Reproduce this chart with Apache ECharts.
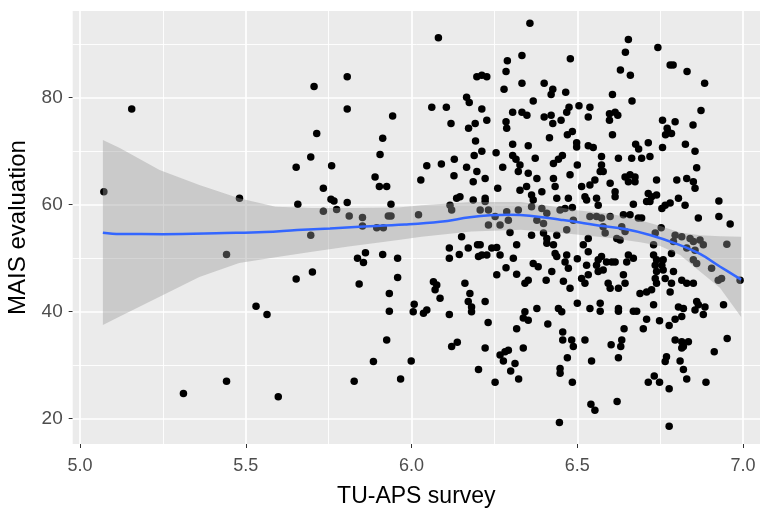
<!DOCTYPE html>
<html>
<head>
<meta charset="utf-8">
<script src="https://cdn.jsdelivr.net/npm/echarts@6/dist/echarts.min.js"></script>
<style>
  html, body { margin: 0; padding: 0; background: #fff; }
  #chart { width: 760px; height: 508px; }
</style>
</head>
<body>
<div id="chart"></div>
<script>
// TU-APS survey (x) and MAIS evaluation (y)
var tuAps = [
  5.072,5.156,5.481,5.806,5.706,5.806,5.943,5.714,5.913,5.905,5.696,5.652,5.759,5.890,5.903,5.925,5.734,5.657,5.757,5.766,
  5.806,5.938,5.734,5.774,5.812,5.852,5.852,5.930,5.938,5.895,5.915,5.696,
  5.442,5.652,5.701,5.531,5.564,5.312,5.442,5.598,5.837,5.861,5.855,5.913,5.958,5.842,5.958,5.933,5.933,5.925,5.885,5.827,5.967,
  6.081,6.357,6.333,6.289,6.479,6.285,6.197,6.212,6.227,6.333,6.400,6.279,6.426,6.421,6.465,6.166,6.174,6.367,6.061,6.105,
  6.212,6.505,6.475,6.468,6.305,6.333,6.348,6.400,6.421,6.426,6.451,6.119,6.227,6.192,6.172,6.285,6.287,6.193,6.416,6.470,
  6.485,6.498,6.498,6.305,6.352,6.255,6.212,6.189,6.305,6.315,6.373,6.455,6.443,6.129,
  6.654,6.743,6.645,6.780,6.789,6.630,6.660,6.831,6.884,6.606,6.665,6.538,6.533,6.597,6.614,6.622,6.597,6.873,6.757,6.795,
  6.849,6.771,6.774,6.766,6.784,6.606,6.533,6.548,6.676,6.685,6.714,6.757,6.826,6.855,6.573,6.624,6.664,6.694,6.719,
  6.046,6.090,6.166,6.197,6.128,6.186,6.222,6.028,6.275,6.327,6.322,6.352,6.428,6.478,6.378,6.428,6.433,6.260,6.327,6.347,
  6.393,6.362,6.367,6.438,6.473,6.146,6.136,6.186,6.222,6.222,6.116,6.121,6.485,6.021,6.207,6.232,6.252,6.287,6.322,6.232,
  6.267,6.292,6.362,6.393,6.408,6.378,6.398,6.448,6.463,6.488,6.468,6.151,6.297,6.362,6.398,6.408,6.408,6.428,6.438,6.114,
  6.114,6.144,6.171,6.199,6.207,6.202,6.212,6.227,6.242,6.257,6.267,6.317,6.307,6.433,6.438,6.468,6.463,6.473,6.367,6.382,
  6.285,6.317,6.257,6.423,6.352,6.342,6.406,6.458,6.478,6.066,6.076,6.071,6.086,6.161,6.176,6.222,6.171,6.181,6.008,6.046,
  6.500,6.573,6.578,6.569,6.644,6.659,6.674,6.654,6.674,6.739,6.800,6.830,6.850,6.855,6.860,6.513,6.538,6.553,6.599,6.614,
  6.614,6.523,6.528,6.558,6.563,6.714,6.724,6.739,6.709,6.719,6.669,6.765,6.780,6.755,6.805,6.825,6.927,6.865,6.927,6.961,
  6.538,6.558,6.573,6.599,6.578,6.584,6.639,6.659,6.684,6.694,6.634,6.644,6.619,6.629,6.753,6.735,6.730,6.795,6.815,6.790,
  6.784,6.840,6.850,6.870,6.880,6.855,6.830,6.850,6.860,6.905,6.925,6.935,6.951,6.991,6.533,6.518,6.533,6.500,6.563,6.573,
  6.558,6.588,6.563,6.578,6.604,6.614,6.654,6.649,6.669,6.528,6.533,6.513,6.523,6.730,6.739,6.759,6.735,6.755,6.739,6.759,
  6.735,6.765,6.790,6.639,6.644,6.624,6.593,6.599,6.689,6.709,6.724,6.780,6.739,6.815,6.830,6.850,6.784,6.730,6.569,6.624,
  6.865,6.860,6.941,6.500,
  6.005,6.036,6.114,6.181,6.231,6.342,6.337,6.352,6.378,6.317,6.411,6.443,6.453,6.456,6.456,6.483,6.488,6.121,6.138,6.222,
  6.337,6.267,6.282,6.292,6.277,6.312,6.299,6.323,6.470,6.448,6.448,6.485,6.202,6.252,5.999,6.446,
  6.538,6.569,6.624,6.669,6.679,6.805,6.820,6.855,6.885,6.880,6.709,6.748,6.777,6.795,6.815,6.699,6.641,6.634,6.631,6.602,
  6.523,6.624,6.543,6.795,6.815,6.835,6.815,6.820,6.769,6.765,6.810,6.820,6.913,6.952,6.732,6.714,6.748,6.777,6.830,6.888,
  6.541,6.553,6.620,6.777
];
var mais = [
  62.4,77.9,61.2,83.9,82.1,77.9,76.6,73.3,72.4,69.4,68.9,67.0,67.3,65.2,63.4,63.4,63.1,60.1,61.0,60.7,
  60.4,60.1,58.8,59.1,57.9,57.6,56.0,57.9,57.9,55.7,55.7,54.3,
  50.7,46.1,47.4,41.0,39.5,24.7,27.0,24.1,50.0,51.0,49.2,50.7,50.0,45.2,46.4,43.4,40.1,34.7,30.7,27.0,27.4,
  91.2,93.9,87.9,86.9,87.3,84.9,83.9,84.2,83.9,82.7,82.7,81.6,81.6,80.6,81.0,80.1,79.1,79.4,78.2,78.2,
  77.9,78.5,78.2,77.3,77.3,77.3,76.7,76.4,76.7,75.2,75.8,75.2,75.8,75.2,74.3,75.5,74.3,71.9,72.5,73.1,
  73.7,71.6,70.8,71.3,71.0,69.7,70.0,69.2,69.2,68.5,68.7,69.2,68.5,68.5,
  90.9,89.4,88.5,86.1,86.1,85.2,84.2,84.9,82.7,80.6,79.4,78.2,76.4,77.0,77.3,76.7,75.8,77.6,75.8,75.5,
  74.9,74.3,73.6,73.1,73.3,73.1,71.0,70.7,71.3,70.4,71.6,70.7,71.3,70.0,69.0,68.7,68.7,68.7,69.0,
  67.3,67.6,67.0,66.2,65.4,64.3,64.9,64.6,67.0,67.4,66.2,65.9,67.7,65.6,64.9,64.9,63.4,63.1,62.7,63.4,
  62.4,61.8,60.9,61.2,61.2,61.5,61.2,60.9,61.2,60.6,59.9,59.0,59.5,58.1,59.0,59.0,57.8,58.7,59.0,56.2,
  56.2,57.1,59.6,59.3,58.4,57.1,56.5,59.0,59.3,57.1,55.3,54.0,54.8,54.3,54.7,53.7,52.8,52.5,54.3,51.9,
  50.0,50.7,51.9,52.5,52.5,50.3,50.6,50.6,51.9,52.0,50.6,52.5,50.0,50.9,50.3,50.6,49.3,48.1,49.0,48.4,
  48.2,47.0,46.9,47.5,45.9,45.3,45.9,45.7,44.4,45.6,45.0,44.1,42.5,45.3,43.4,41.9,41.9,40.9,41.4,40.3,
  67.4,67.4,66.2,66.2,65.2,65.6,65.2,64.3,64.3,64.6,64.6,64.9,64.3,63.1,66.9,63.4,63.7,64.6,64.0,62.4,
  61.5,61.5,60.9,61.2,59.9,62.1,61.5,61.8,60.6,60.6,60.1,59.9,60.3,59.3,61.2,59.9,60.7,57.5,57.8,56.4,
  57.8,57.8,57.5,57.8,55.9,54.7,58.1,58.1,57.5,57.5,55.9,55.0,53.7,53.4,55.7,54.7,52.5,54.3,54.0,53.1,
  50.9,53.7,53.1,53.4,52.5,51.5,51.9,49.7,49.0,48.1,45.9,46.2,52.6,45.9,53.7,52.5,51.2,49.9,49.7,50.3,
  48.7,49.3,47.5,47.8,49.3,49.3,50.6,49.3,50.0,48.7,46.9,46.2,45.3,50.6,49.7,49.7,48.7,48.7,47.5,47.8,
  46.2,46.2,47.5,46.9,45.3,44.4,45.3,44.4,43.4,43.7,44.1,43.7,45.3,45.9,45.3,45.3,45.3,41.3,41.6,40.6,
  41.3,41.9,41.3,41.6,
  40.0,39.7,39.5,40.0,38.0,40.0,38.8,38.4,40.6,36.8,37.7,40.6,40.0,36.2,34.7,34.7,33.5,33.5,34.3,33.2,
  33.2,31.9,32.5,32.8,30.8,30.3,28.9,27.4,31.4,29.4,28.5,26.8,29.2,26.8,30.8,19.3,
  40.6,40.1,40.1,40.1,40.1,40.9,40.6,40.3,40.9,39.5,38.6,38.3,37.4,38.6,39.1,36.8,36.8,34.7,33.5,33.8,
  34.7,31.4,30.8,34.7,34.4,34.4,33.2,33.5,31.6,30.7,30.8,29.2,32.5,35.0,28.0,26.8,26.8,25.6,27.4,26.8,
  22.7,21.6,23.2,18.6
];

// loess fit and its confidence band
var fitX = [5.069,5.121,5.25,5.437,5.558,5.655,5.754,5.830,5.980,6.086,6.176,6.237,6.297,6.327,6.388,6.448,6.508,6.569,6.644,6.719,6.795,6.870,6.931,6.994];
var fitY = [54.77,54.52,54.5,54.71,54.90,55.27,55.55,55.83,56.30,56.82,57.64,58.02,58.13,58.07,57.70,57.20,56.67,56.07,55.46,54.34,52.78,50.79,48.41,46.0];
var bandX = [5.069,5.12,5.24,5.36,5.48,5.59,5.70,5.81,5.96,6.03,6.18,6.33,6.45,6.49,6.60,6.69,6.75,6.81,6.87,6.93,6.994];
var bandLow = [37.5,39.1,42.8,46.5,49.1,50.2,51.2,52.2,53.4,54.0,55.0,55.3,54.7,54.5,53.8,53.0,52.3,50.6,47.5,44.5,39.0];
var bandHigh = [72.1,70.6,66.5,63.7,61.2,59.6,59.4,59.4,59.5,59.9,60.5,60.5,59.5,59.0,58.3,57.1,56.0,54.8,54.3,54.1,54.0];

var xTicks = [5, 5.5, 6, 6.5, 7];
var xMinor = [5.25, 5.75, 6.25, 6.75];
var yTicks = [20, 40, 60, 80];
var yMinor = [30, 50, 70, 90];

var points = tuAps.map(function (x, i) { return [x, mais[i]]; });
var fit = fitX.map(function (x, i) { return [x, fitY[i]]; });
var band = bandX.map(function (x, i) { return [x, bandLow[i], bandHigh[i]]; });

var gridLines = [];
xTicks.forEach(function (v) { gridLines.push({ xAxis: v, lineStyle: { width: 1.7 } }); });
xMinor.forEach(function (v) { gridLines.push({ xAxis: v, lineStyle: { width: 0.9 } }); });
yTicks.forEach(function (v) { gridLines.push({ yAxis: v, lineStyle: { width: 1.7 } }); });
yMinor.forEach(function (v) { gridLines.push({ yAxis: v, lineStyle: { width: 0.9 } }); });

var labelFont = 'Liberation Sans';

var option = {
  animation: false,
  grid: {
    left: 72.7, right: 0, top: 11, bottom: 64,
    outerBoundsMode: 'none', containLabel: false,
    show: true, backgroundColor: '#EBEBEB', borderWidth: 0
  },
  xAxis: {
    type: 'value',
    min: 4.978, max: 7.051,
    axisLine: { show: false },
    axisTick: { show: true, customValues: xTicks, length: 4, lineStyle: { color: '#333' } },
    axisLabel: {
      customValues: xTicks, color: '#4D4D4D', fontSize: 18, fontFamily: labelFont, margin: 13,
      formatter: function (v) { return v.toFixed(1); }
    },
    splitLine: { show: false },
    name: 'TU-APS survey', nameLocation: 'middle', nameGap: 41,
    nameTextStyle: { color: '#000', fontSize: 23, fontFamily: labelFont }
  },
  yAxis: {
    type: 'value',
    min: 15.27, max: 96.21,
    axisLine: { show: false },
    axisTick: { show: true, customValues: yTicks, length: 4, lineStyle: { color: '#333' } },
    axisLabel: { customValues: yTicks, color: '#4D4D4D', fontSize: 19, fontFamily: labelFont, margin: 10 },
    splitLine: { show: false },
    name: 'MAIS evaluation', nameLocation: 'middle', nameGap: 38,
    nameTextStyle: { color: '#000', fontSize: 24, fontFamily: labelFont }
  },
  series: [
    {
      type: 'line', data: [], silent: true, z: 1,
      markLine: {
        silent: true, z: 1, symbol: ['none', 'none'], label: { show: false },
        lineStyle: { color: '#FFFFFF', type: 'solid' },
        emphasis: { disabled: true },
        data: gridLines
      }
    },
    {
      type: 'scatter', data: points, symbolSize: 7.5, z: 2,
      itemStyle: { color: '#000000', opacity: 1 }
    },
    {
      type: 'custom', data: band, z: 3, silent: true,
      encode: { x: 0, y: [1, 2] },
      renderItem: function (params, api) {
        if (params.dataIndex !== 0) return null;
        var pts = [];
        for (var i = 0; i < band.length; i++) pts.push(api.coord([band[i][0], band[i][2]]));
        for (var j = band.length - 1; j >= 0; j--) pts.push(api.coord([band[j][0], band[j][1]]));
        return {
          type: 'polygon',
          shape: { points: pts },
          style: { fill: 'rgba(153,153,153,0.4)', stroke: null }
        };
      }
    },
    {
      type: 'line', data: fit, smooth: 0.4, showSymbol: false, z: 4, silent: true,
      lineStyle: { color: '#3366FF', width: 2.5 }
    }
  ]
};

echarts.init(document.getElementById('chart')).setOption(option);
</script>
</body>
</html>
